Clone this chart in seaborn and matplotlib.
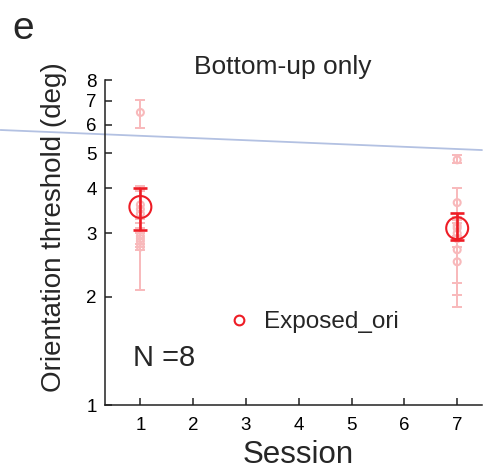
import seaborn as sns
import matplotlib.pyplot as plt
import pandas as pd
import numpy as np
from matplotlib.lines import Line2D

# Session numbers
sessions = [1, 7]

# Individual observers: threshold and error-bar limits at session 1 and 7
subj_s1 = [6.5, 3.6, 3.5, 3.4, 2.95, 2.9, 2.85, 2.75]
subj_s1_lo = [5.9, 3.3, 3.2, 3.1, 2.8, 2.75, 2.7, 2.09]
subj_s1_hi = [7.05, 4.06, 3.98, 3.93, 3.2, 3.1, 3.0, 3.29]

subj_s7 = [4.8, 3.65, 3.15, 3.1, 3.0, 2.9, 2.5, 2.7]
subj_s7_lo = [4.7, 3.3, 2.95, 2.9, 2.75, 2.18, 2.02, 1.87]
subj_s7_hi = [4.95, 4.02, 3.33, 3.26, 3.2, 3.3, 2.75, 3.2]

# Group means and error limits
mean_vals = [3.55, 3.1]
mean_lo = [3.07, 2.87]
mean_hi = [4.0, 3.42]

# Reference line (end points in session units)
ref_x = [-1.65, 7.47]
ref_y = [5.81, 5.11]

yticks = [1, 2, 3, 4, 5, 6, 7, 8]
xticks = [1, 2, 3, 4, 5, 6, 7]

pink = '#f8b9bb'
red = '#ee1c25'
blue = '#b3c1e2'

sns.set_style('ticks')
plt.rcParams['font.family'] = ['Liberation Sans', 'DejaVu Sans']

fig = plt.figure(figsize=(4.9, 4.76), dpi=100)
ax = fig.add_axes([105 / 490, 1 - 405 / 476, 377 / 490, 325 / 476])

# individual data
subj = pd.DataFrame({
    'session': [1] * len(subj_s1) + [7] * len(subj_s7),
    'thr': subj_s1 + subj_s7,
    'lo': subj_s1_lo + subj_s7_lo,
    'hi': subj_s1_hi + subj_s7_hi,
})
ax.errorbar(subj['session'], subj['thr'],
            yerr=[subj['thr'] - subj['lo'], subj['hi'] - subj['thr']],
            fmt='none', ecolor=pink, elinewidth=1.4, capsize=3.5, capthick=1.4, zorder=2)
sns.scatterplot(data=subj, x='session', y='thr', ax=ax, marker='o', s=25,
                facecolors='none', edgecolor=pink, linewidth=1.5, zorder=3, legend=False)

# group means
means = pd.DataFrame({'session': sessions, 'thr': mean_vals, 'lo': mean_lo, 'hi': mean_hi})
ax.errorbar(means['session'], means['thr'],
            yerr=[means['thr'] - means['lo'], means['hi'] - means['thr']],
            fmt='none', ecolor=red, elinewidth=1.9, capsize=5, capthick=1.9, zorder=4)
sns.scatterplot(data=means, x='session', y='thr', ax=ax, marker='o', s=250,
                facecolors='none', edgecolor=red, linewidth=1.5, zorder=5, legend=False)

# reference line reaching out to the left edge
ax.plot(ref_x, ref_y, color=blue, lw=1.3, clip_on=False, zorder=1)

ax.set_yscale('log')
ax.set_ylim(1, 8)
ax.set_yticks(yticks)
ax.set_yticklabels([str(v) for v in yticks])
ax.yaxis.set_minor_locator(plt.NullLocator())
ax.set_xlim(0.33, 7.47)
ax.set_xticks(xticks)
ax.tick_params(direction='in', length=5, width=1.1, labelsize=13.5, pad=6,
               bottom=True, left=True, colors='#222222', labelcolor='black')
ax.tick_params(axis='x', pad=9)

for side in ['top', 'right']:
    ax.spines[side].set_visible(False)
for side in ['left', 'bottom']:
    ax.spines[side].set_linewidth(1.1)
    ax.spines[side].set_color('#222222')

ax.set_xlabel('Session', fontsize=22.5)
ax.set_ylabel('Orientation threshold (deg)', fontsize=20)
ax.xaxis.set_label_coords(0.512, -0.107)
ax.yaxis.set_label_coords(-0.1, 0.548)

handle = Line2D([], [], ls='none', marker='o', mfc='none', mec=red, ms=7, mew=1.5)
ax.legend([handle], ['Exposed_ori'], frameon=False, fontsize=17.5, loc='center left',
          bbox_to_anchor=(0.323, 0.255), handlelength=1.0, handletextpad=0.55,
          borderpad=0, borderaxespad=0)

ax.text(0.074, 0.145, 'N =8', transform=ax.transAxes, fontsize=21, va='center', ha='left')

fig.text(283 / 490, 1 - 67 / 476, 'Bottom-up only', fontsize=19, ha='center', va='center')
fig.text(12 / 490, 1 - 29 / 476, 'e', fontsize=28, ha='left', va='center')

fig.savefig('out.png', dpi=100)
